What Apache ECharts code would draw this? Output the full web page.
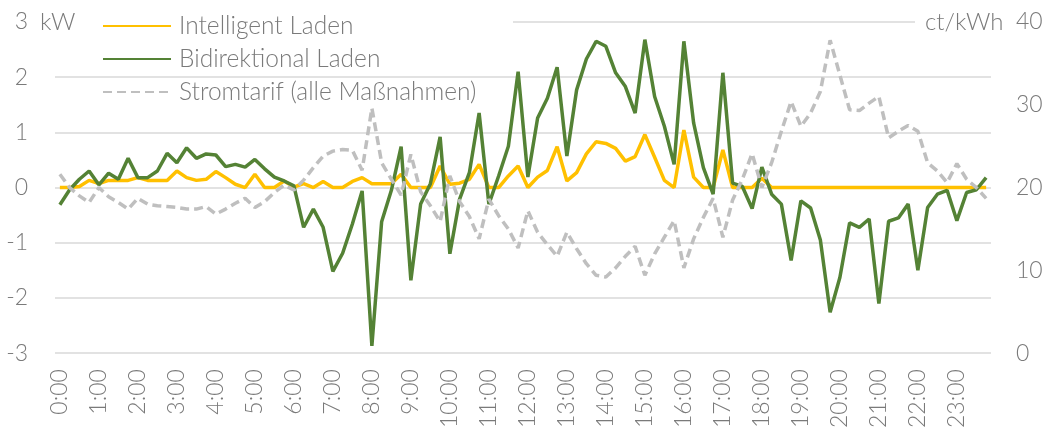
<!DOCTYPE html>
<html>
<head>
<meta charset="utf-8">
<script src="https://cdn.jsdelivr.net/npm/echarts@6/dist/echarts.min.js"></script>
<style>
html,body{margin:0;padding:0;background:#fff;}
#chart{width:1049px;height:431px;}
</style>
</head>
<body>
<div id="chart"></div>
<script>
// ---- data ----
const hourLabels = ['0:00','1:00','2:00','3:00','4:00','5:00','6:00','7:00','8:00','9:00','10:00','11:00',
  '12:00','13:00','14:00','15:00','16:00','17:00','18:00','19:00','20:00','21:00','22:00','23:00'];
const quarterSuffix = ['00','15','30','45'];
const categories = [];
hourLabels.forEach(function (h) {
  const hh = h.split(':')[0];
  quarterSuffix.forEach(function (m) { categories.push(hh + ':' + m); });
});

const seriesNames = ['Intelligent Laden', 'Bidirektional Laden', 'Stromtarif (alle Maßnahmen)'];

const intelligentLaden = [
  0, 0, 0.02, 0.13, 0.07, 0.13, 0.13, 0.13, 0.18, 0.13, 0.13, 0.13,
  0.3, 0.18, 0.13, 0.15, 0.29, 0.18, 0.06, 0, 0.24, 0, 0, 0.12,
  0.01, 0.07, 0, 0.11, 0, 0, 0.11, 0.18, 0.07, 0.07, 0.07, 0.24,
  0, 0, 0, 0.39, 0.06, 0.08, 0.15, 0.42, 0, 0, 0.21, 0.39,
  0, 0.19, 0.31, 0.74, 0.12, 0.27, 0.61, 0.83, 0.8, 0.71, 0.48, 0.56,
  0.96, 0.55, 0.13, 0, 1.04, 0.19, 0, 0, 0.68, 0, 0, 0,
  0.17, 0, 0, 0, 0, 0, 0, 0, 0, 0, 0, 0,
  0, 0, 0, 0, 0, 0, 0, 0, 0, 0, 0, 0
];

const bidirektionalLaden = [
  -0.31, -0.04, 0.15, 0.3, 0.05, 0.26, 0.15, 0.53, 0.18, 0.18, 0.3, 0.62,
  0.45, 0.72, 0.53, 0.61, 0.59, 0.38, 0.42, 0.37, 0.51, 0.34, 0.19, 0.12,
  0.03, -0.72, -0.39, -0.72, -1.52, -1.19, -0.66, -0.06, -2.87, -0.62, -0.05, 0.74,
  -1.68, -0.3, 0.07, 0.92, -1.2, -0.21, 0.27, 1.35, -0.3, 0.21, 0.75, 2.1,
  0.19, 1.26, 1.62, 2.18, 0.57, 1.77, 2.33, 2.65, 2.56, 2.08, 1.83, 1.35,
  2.68, 1.65, 1.11, 0.42, 2.65, 1.17, 0.36, -0.12, 2.08, 0.08, 0.02, -0.38,
  0.37, -0.12, -0.3, -1.32, -0.24, -0.37, -0.95, -2.26, -1.63, -0.64, -0.72, -0.57,
  -2.1, -0.61, -0.55, -0.3, -1.5, -0.36, -0.12, -0.05, -0.6, -0.09, -0.04, 0.18
];

const stromtarif = [
  21.6, 20.0, 19.0, 18.2, 20.0, 18.9, 18.2, 17.4, 18.7, 18.0, 17.8, 17.7,
  17.6, 17.4, 17.4, 17.7, 16.8, 17.4, 18.1, 18.7, 17.6, 18.3, 19.4, 20.3,
  19.7, 20.9, 22.4, 23.8, 24.4, 24.6, 24.5, 22.1, 29.6, 23.0, 21.0, 19.1,
  24.0, 19.5, 17.8, 15.9, 21.4, 18.3, 16.5, 13.8, 18.6, 16.6, 15.0, 12.7,
  17.2, 14.6, 13.1, 11.7, 14.6, 12.6, 10.8, 9.4, 9.2, 10.3, 11.7, 12.9,
  9.4, 12.0, 14.0, 16.0, 10.3, 13.8, 16.4, 18.7, 14.0, 18.5, 21.0, 24.1,
  20.0, 23.0, 26.8, 30.4, 27.4, 29.0, 31.6, 37.8, 33.6, 29.4, 29.3, 30.2,
  31.0, 26.0, 26.8, 27.5, 26.8, 23.0, 22.0, 20.6, 22.9, 21.0, 20.0, 18.7
];

const leftAxisName = 'kW';
const rightAxisName = 'ct/kWh';

// ---- chart ----
const FONT = 'Lato';
const GRAY = '#7a7a7a';
const chart = echarts.init(document.getElementById('chart'), null, {renderer: 'canvas'});

chart.setOption({
  animation: false,
  backgroundColor: '#fff',
  textStyle: {fontFamily: FONT, color: GRAY, fontWeight: 300},
  grid: {left: 55, right: 58, top: 22, bottom: 76, containLabel: false},
  legend: {
    orient: 'vertical',
    left: 102,
    top: 12,
    padding: 0,
    itemWidth: 68,
    itemHeight: 14,
    itemGap: 5,
    data: seriesNames,
    itemStyle: {opacity: 0},
    textStyle: {fontFamily: FONT, fontWeight: 300, fontSize: 24.5, color: GRAY, lineHeight: 28, padding: [0, 0, 0, 3]}
  },
  graphic: [
    {type: 'rect', z: 3, shape: {x: 55, y: 17, width: 458, height: 10}, style: {fill: '#fff'}},
    {type: 'rect', z: 3, shape: {x: 915, y: 17, width: 80, height: 10}, style: {fill: '#fff'}},
    {type: 'text', z: 4, left: 40, top: 10, style: {text: leftAxisName, font: '300 24px ' + FONT, fill: GRAY}},
    {type: 'text', z: 4, left: 925, top: 10, style: {text: rightAxisName, font: '300 24px ' + FONT, fill: GRAY}}
  ],
  xAxis: {
    type: 'category',
    data: categories,
    boundaryGap: true,
    axisLine: {show: false},
    axisTick: {show: false},
    splitLine: {show: false},
    axisLabel: {
      rotate: 90,
      margin: 16,
      fontSize: 23,
      fontWeight: 300,
      fontFamily: FONT,
      color: GRAY,
      interval: 3,
      formatter: function (v) { return v.slice(-3) === ':00' ? v.replace(/^0(\d)/, '$1') : ''; }
    }
  },
  yAxis: [
    {
      type: 'value', min: -3, max: 3, interval: 1,
      axisLine: {show: false}, axisTick: {show: false},
      splitLine: {show: true, lineStyle: {color: '#d9d9d9', width: 1.5}},
      axisLabel: {margin: 27, fontSize: 23, fontWeight: 300, fontFamily: FONT, color: GRAY}
    },
    {
      type: 'value', min: 0, max: 40, interval: 10,
      axisLine: {show: false}, axisTick: {show: false},
      splitLine: {show: false},
      axisLabel: {margin: 25, fontSize: 23, fontWeight: 300, fontFamily: FONT, color: GRAY}
    }
  ],
  series: [
    {
      name: seriesNames[0], type: 'line', yAxisIndex: 0, data: intelligentLaden,
      showSymbol: false, symbol: 'none', smooth: false,
      lineStyle: {color: '#FFC000', width: 3.5}, itemStyle: {color: '#FFC000'}
    },
    {
      name: seriesNames[1], type: 'line', yAxisIndex: 0, data: bidirektionalLaden,
      showSymbol: false, symbol: 'none',
      lineStyle: {color: '#548235', width: 3.5}, itemStyle: {color: '#548235'}
    },
    {
      name: seriesNames[2], type: 'line', yAxisIndex: 1, data: stromtarif,
      showSymbol: false, symbol: 'none',
      lineStyle: {color: '#BFBFBF', width: 3.5, type: [9, 5]}, itemStyle: {color: '#BFBFBF'}
    }
  ]
});
</script>
</body>
</html>
